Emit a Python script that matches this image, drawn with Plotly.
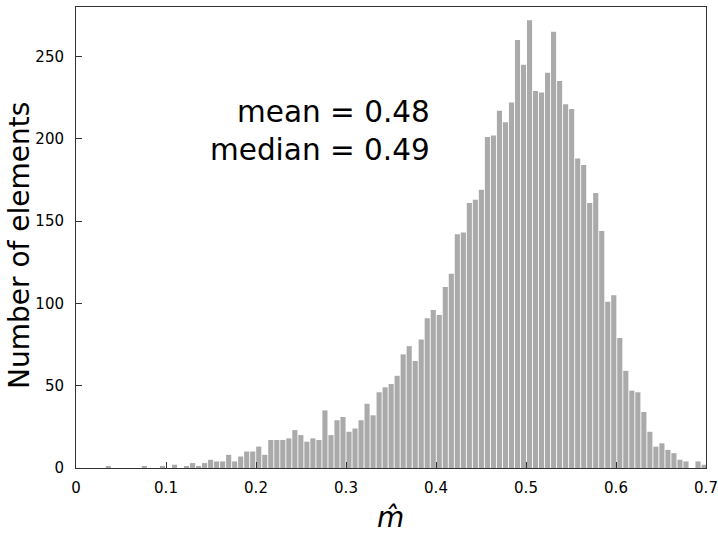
import plotly.graph_objects as go

# Histogram counts (100 bins)
counts = [1, 0, 0, 0, 0, 0, 1, 0, 0, 1,
          0, 2, 0, 1, 3, 1, 3, 5, 4, 4,
          8, 4, 7, 10, 10, 13, 8, 17, 17, 17,
          18, 23, 20, 16, 18, 17, 35, 20, 29, 31,
          22, 24, 29, 39, 32, 46, 49, 51, 56, 69,
          74, 65, 78, 91, 96, 93, 110, 118, 142, 143,
          161, 163, 169, 201, 202, 217, 210, 222, 260, 245,
          272, 229, 228, 240, 265, 235, 221, 218, 188, 184,
          161, 167, 144, 101, 105, 79, 59, 47, 46, 34,
          22, 13, 15, 11, 9, 5, 4, 0, 4, 2]
first_center = 0.0359
bin_width = 0.006686

x_ticks = [0, 0.1, 0.2, 0.3, 0.4, 0.5, 0.6, 0.7]
x_ticklabels = ["0", "0.1", "0.2", "0.3", "0.4", "0.5", "0.6", "0.7"]
y_ticks = [0, 50, 100, 150, 200, 250]
mean_text = "mean = 0.48"
median_text = "median = 0.49"
x_title = "<i>m̂</i>"
y_title = "Number of elements"

FONT = "DejaVu Sans"
W, H = 718, 533
L, R, T, B = 76, 12, 7, 65
PW, PH = W - L - R, H - T - B


def px(xp):
    return (xp - L) / PW


def py(yp):
    return (H - B - yp) / PH


fig = go.Figure(go.Bar(
    x0=first_center, dx=bin_width, y=counts,
    marker=dict(color="#aaaaaa", line=dict(width=0)),
    showlegend=False,
))

fig.update_layout(
    width=W, height=H,
    margin=dict(l=L, r=R, t=T, b=B, autoexpand=False),
    paper_bgcolor="white", plot_bgcolor="white",
    bargap=0.15,
    font=dict(family=FONT, color="black"),
)

for txt, yp in [(mean_text, 112), (median_text, 150)]:
    fig.add_annotation(
        x=px(432), y=py(yp), xref="paper", yref="paper",
        xanchor="right", yanchor="middle", align="right",
        text=txt, showarrow=False,
        font=dict(family=FONT, size=29.5, color="black"),
    )

fig.add_annotation(
    x=px(390), y=py(517), xref="paper", yref="paper",
    xanchor="center", yanchor="middle",
    text=x_title, showarrow=False,
    font=dict(family=FONT, size=28, color="black"),
)
fig.add_annotation(
    x=px(19), y=py(246), xref="paper", yref="paper",
    xanchor="center", yanchor="middle", textangle=-90,
    text=y_title, showarrow=False,
    font=dict(family=FONT, size=28, color="black"),
)

fig.update_xaxes(
    range=[0, 0.7], tickvals=x_ticks, ticktext=x_ticklabels,
    ticks="inside", ticklen=6, tickcolor="#333333",
    showline=True, linecolor="#333333", linewidth=1, mirror=True,
    showgrid=False, zeroline=False, automargin=False,
    tickfont=dict(family=FONT, size=15),
    ticklabelstandoff=6,
)
fig.update_yaxes(
    range=[0, 280], tickvals=y_ticks,
    ticks="inside", ticklen=6, tickcolor="#333333",
    showline=True, linecolor="#333333", linewidth=1, mirror=True,
    showgrid=False, zeroline=False, automargin=False,
    tickfont=dict(family=FONT, size=15),
    ticklabelstandoff=8,
)

fig.write_html(
    "out.html",
    config={"displayModeBar": False},
    post_script="document.body.style.margin='0';document.body.style.overflow='hidden';",
)
